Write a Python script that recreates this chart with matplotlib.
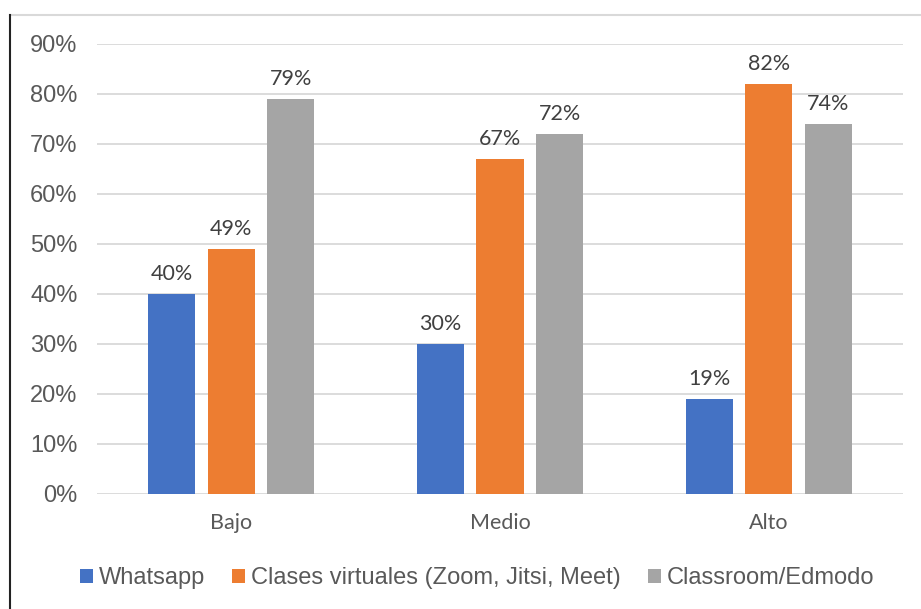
import numpy as np
import matplotlib.pyplot as plt
from matplotlib.lines import Line2D

categories = ['Bajo', 'Medio', 'Alto']
series_names = ['Whatsapp', 'Clases virtuales (Zoom, Jitsi, Meet)', 'Classroom/Edmodo']
whatsapp = [40, 30, 19]
clases = [49, 67, 82]
classroom = [79, 72, 74]
colors = ['#4472C4', '#ED7D31', '#A5A5A5']
yticks = [0, 10, 20, 30, 40, 50, 60, 70, 80, 90]

W, H = 921, 609
fig = plt.figure(figsize=(W / 100, H / 100), dpi=100)
ax = fig.add_axes([97 / W, 1 - 494 / H, (903 - 97) / W, (494 - 44) / H])

x = np.arange(len(categories))
bw = 0.175
step = 0.222
for i, (vals, name, c) in enumerate(zip([whatsapp, clases, classroom], series_names, colors)):
    bars = ax.bar(x + (i - 1) * step, np.array(vals) / 100, bw, color=c, label=name, zorder=3)
    for b, v in zip(bars, vals):
        ax.annotate(f'{v}%', (b.get_x() + b.get_width() / 2, b.get_height()),
                    xytext=(0, 7), textcoords='offset points', ha='center', va='bottom',
                    fontsize=15.5, color='#404040', family='Lato')

ax.set_xlim(-0.5, 2.5)
ax.set_ylim(0, 0.9)
ax.set_yticks([t / 100 for t in yticks])
ax.set_yticklabels([f'{t}%' for t in yticks], fontsize=17, color='#595959',
                   family='Liberation Sans')
ax.set_xticks(x)
ax.set_xticklabels(categories, fontsize=15.5, color='#595959', family='Lato')
ax.tick_params(axis='both', length=0)
ax.tick_params(axis='y', pad=14)
ax.tick_params(axis='x', pad=14)
ax.grid(axis='y', color='#D9D9D9', linewidth=1.3, zorder=0)
for s in ax.spines.values():
    s.set_visible(False)

fig.legend(loc='center', bbox_to_anchor=(0.518, 1 - 578 / H), ncol=3, frameon=False,
           prop={'family': 'Liberation Sans', 'size': 17}, labelcolor='#595959',
           handlelength=0.55, handleheight=0.55, handletextpad=0.25, columnspacing=1.15)

# chart border remnants
fig.add_artist(Line2D([10 / W, 1], [1 - 15 / H, 1 - 15 / H], color='#D9D9D9', lw=1.5))
fig.add_artist(Line2D([10 / W, 10 / W], [0, 1 - 15 / H], color='#222222', lw=1.5))

fig.savefig('out.png', dpi=100)
